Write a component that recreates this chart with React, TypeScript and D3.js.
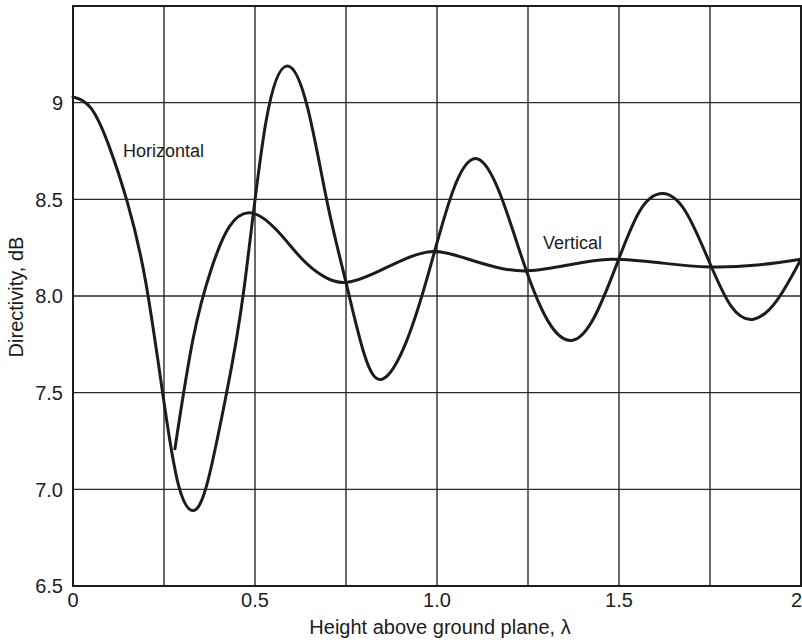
import React from "react";
import * as d3 from "d3";

const horizH = [0.0, 0.05, 0.1, 0.15, 0.2, 0.25, 0.29, 0.33, 0.37, 0.42, 0.47, 0.53, 0.59, 0.645, 0.7, 0.75, 0.8, 0.85, 0.915, 0.98, 1.045, 1.11, 1.175, 1.24, 1.305, 1.37, 1.432, 1.495, 1.557, 1.62, 1.682, 1.745, 1.807, 1.87, 1.935, 2.0];
const horizD = [9.03, 8.97, 8.77, 8.48, 8.07, 7.45, 7.02, 6.89, 7.04, 7.48, 8.04, 8.9, 9.19, 8.97, 8.47, 8.07, 7.7, 7.57, 7.76, 8.14, 8.55, 8.71, 8.52, 8.16, 7.87, 7.77, 7.89, 8.17, 8.44, 8.53, 8.44, 8.19, 7.95, 7.88, 7.98, 8.19];

const vertH = [0.28, 0.33, 0.38, 0.43, 0.49, 0.56, 0.63, 0.69, 0.75, 0.83, 0.91, 0.99, 1.07, 1.16, 1.25, 1.36, 1.48, 1.62, 1.75, 1.88, 2.0];
const vertD = [7.21, 7.78, 8.14, 8.36, 8.43, 8.34, 8.19, 8.1, 8.07, 8.12, 8.19, 8.23, 8.2, 8.15, 8.13, 8.16, 8.19, 8.17, 8.15, 8.16, 8.19];

const xGrid = [0, 0.25, 0.5, 0.75, 1.0, 1.25, 1.5, 1.75, 2.0];
const yGrid = [6.5, 7.0, 7.5, 8.0, 8.5, 9.0, 9.5];
const xTicks = [0, 0.5, 1.0, 1.5, 2.0];
const xTickLabels = ["0", "0.5", "1.0", "1.5", "2"];
const yTicks = [6.5, 7.0, 7.5, 8.0, 8.5, 9.0];
const yTickLabels = ["6.5", "7.0", "7.5", "8.0", "8.5", "9"];

export default function App() {
  const W = 802, H = 640;
  const x = d3.scaleLinear().domain([0, 2]).range([73, 801]);
  const y = d3.scaleLinear().domain([6.5, 9.5]).range([586, 6]);
  const line = d3
    .line<[number, number]>()
    .x((d) => x(d[0]))
    .y((d) => y(d[1]))
    .curve(d3.curveNatural);
  const hPts: [number, number][] = horizH.map((h, i) => [h, horizD[i]]);
  const vPts: [number, number][] = vertH.map((h, i) => [h, vertD[i]]);
  const font = "'Liberation Sans', Arial, Helvetica, sans-serif";
  const ink = "#1c1c1c";
  return (
    <svg
      width={W}
      height={H}
      style={{ position: "absolute", left: 0, top: 0, background: "#fff" }}
      fontFamily={font}
    >
      <rect x={0} y={0} width={W} height={H} fill="#fff" />
      {xGrid.map((v) => (
        <line key={"xg" + v} x1={x(v)} x2={x(v)} y1={y(6.5)} y2={y(9.5)} stroke="#2a2a2a" strokeWidth={1.4} />
      ))}
      {yGrid.map((v) => (
        <line key={"yg" + v} x1={x(0)} x2={x(2)} y1={y(v)} y2={y(v)} stroke="#2a2a2a" strokeWidth={1.4} />
      ))}
      <rect x={x(0)} y={y(9.5)} width={x(2) - x(0)} height={y(6.5) - y(9.5)} fill="none" stroke={ink} strokeWidth={2} />
      <path d={line(hPts) || ""} fill="none" stroke={ink} strokeWidth={3} strokeLinejoin="round" strokeLinecap="round" />
      <path d={line(vPts) || ""} fill="none" stroke={ink} strokeWidth={3} strokeLinejoin="round" strokeLinecap="round" />
      {yTicks.map((v, i) => (
        <text key={"yt" + v} x={63} y={y(v)} dy="0.36em" textAnchor="end" fontSize={20} fill={ink}>
          {yTickLabels[i]}
        </text>
      ))}
      {xTicks.map((v, i) => (
        <text
          key={"xt" + v}
          x={i === xTicks.length - 1 ? 802 : x(v)}
          y={607}
          textAnchor={i === xTicks.length - 1 ? "end" : "middle"}
          fontSize={20}
          fill={ink}
        >
          {xTickLabels[i]}
        </text>
      ))}
      <text x={440} y={634} textAnchor="middle" fontSize={20} fill={ink}>
        Height above ground plane, λ
      </text>
      <text transform={`translate(23, 297) rotate(-90)`} textAnchor="middle" fontSize={20} fill={ink}>
        Directivity, dB
      </text>
      <text x={123} y={157} fontSize={18} fill={ink}>
        Horizontal
      </text>
      <text x={543} y={249} fontSize={18} fill={ink}>
        Vertical
      </text>
    </svg>
  );
}
